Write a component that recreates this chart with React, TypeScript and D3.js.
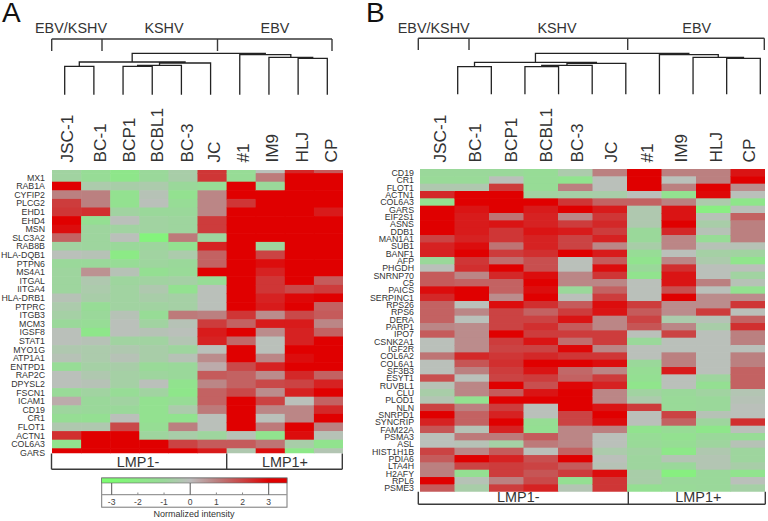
import React from 'react';
import * as d3 from 'd3';

const samples = ['JSC-1', 'BC-1', 'BCP1', 'BCBL1', 'BC-3', 'JC', '#1', 'IM9', 'HLJ', 'CP'];

const genesA = ['MX1', 'RAB1A', 'CYFIP2', 'PLCG2', 'EHD1', 'EHD4', 'MSN', 'SLC3A2', 'RAB8B', 'HLA-DQB1', 'PTPN6', 'MS4A1', 'ITGAL', 'IITGA4', 'HLA-DRB1', 'PTPRC', 'ITGB3', 'MCM3', 'IGSF8', 'STAT1', 'MYO1G', 'ATP1A1', 'ENTPD1', 'RAP2C', 'DPYSL2', 'FSCN1', 'ICAM1', 'CD19', 'CR1', 'FLOT1', 'ACTN1', 'COL6A3', 'GARS'];

const genesB = ['CD19', 'CR1', 'FLOT1', 'ACTN1', 'COL6A3', 'GARS', 'EIF2S1', 'ASNS', 'DDB1', 'MAN1A1', 'SUB1', 'BANF1', 'AFP', 'PHGDH', 'SNRNP70', 'C5', 'PAICS', 'SERPINC1', 'RPS26', 'RPS6', 'DERA', 'PARP1', 'IPO7', 'CSNK2A1', 'IGF2R', 'COL6A2', 'COL6A1', 'SF3B3', 'ESYT1', 'RUVBL1', 'CLU', 'PLOD1', 'NLN', 'SNRPD1', 'SYNCRIP', 'FAM22A', 'PSMA3', 'ASL', 'HIST1H1B', 'PDIA6', 'LTA4H', 'H2AFY', 'RPL6', 'PSME3'];

// panel A, one list per sample. The figure's crop leaves a sliver of one more row on top
const clippedTopRowA = [-0.8, -1.2, -1.8, -1, -0.6, 2.2, -1.2, -0.1, 2.4, 1.6];
const jsc1A = [-0.8, 3, 1, 2.1, 2.2, 3, 2.8, 1.5, -0.8, -0.1, -1, -0.9, -0.9, -0.9, -0.2, -0.5, -0.7, -1, -0.1, -0.1, -0.4, -0.2, -1.2, -0.1, -0.1, -1.1, 0.3, -0.9, -1.3, -0.4, 2.3, -1.6, 3];
const bc1A = [-1.2, -0.5, 1, 1, 2.3, -1.4, -0.9, -0.9, -0.9, -0.2, -1, 0.7, -0.4, -0.5, -0.6, -1.2, -1, -1.2, -1.8, -0.2, -0.5, -0.5, -0.7, -0.4, -0.2, -0.8, -1, -1, -1.4, -0.4, 3, 3, 3];
const bcp1A = [-1.8, -0.6, -1.5, -1.5, -0.8, -0.1, -0.8, -0.1, -1, -2, -1.2, -0.2, -0.9, -0.8, -0.8, -0.8, -0.2, -0.1, -0.1, -0.8, -0.4, -0.2, -0.6, -0.7, -0.7, -1.2, -0.8, -1, -0.1, 1.9, 3, 3, 3];
const bcbl1A = [-1, -0.5, -0.2, -0.1, -1, -0.8, -0.8, -2.5, -0.9, -0.8, -0.9, -1.4, -0.8, -0.4, -0.6, -0.8, -1.2, -0.8, -0.2, -0.8, -0.6, -0.6, -1.1, -0.9, -0.1, -0.8, -1.5, -1.5, -1.5, -1.3, -0.9, 3, 3];
const bc3A = [-0.6, -1, -1.5, -1.2, -1, -0.9, -0.9, 1.1, -1.5, -0.5, -1, -1.1, -0.7, -1.5, -0.7, -0.7, 1.1, -0.2, -0.1, -0.3, -0.9, -0.2, -1, -1, -1.6, -1.8, -1.2, -0.5, -1.6, 1, -0.6, 2, 3];
const jcA = [2.2, -1.2, 0.9, 0.9, 0.9, 2.1, 2.1, -0.9, 2.5, 1.5, 1.5, 3, -1.2, -0.1, -0.1, -0.1, 1, 2.1, 2.6, 2.5, -0.1, 0.8, 0.3, 1.6, 0.9, 1.5, 1.5, 1.1, -0.1, -0.1, -0.9, 1.6, 2.6];
const n1A = [-1.2, 3, 3, 2.2, 3, 3, 3, 3, 3, 3, 3, 3, 3, 3, 3, 3, 2.2, 1.5, 3, 1.4, 3, 3, 1.9, 1.5, 1.5, 1.9, 3, 3, 3, 3, -0.2, 1.6, -0.4];
const im9A = [1.1, -1, 3, 3, 3, 3, 3, 3, -0.9, 2, 2.8, 2.5, 2.2, 2.2, 2.5, 2.6, 0.8, 2.6, 0.8, -0.1, -0.1, 0.9, 2.5, 0.8, 1.9, 0.8, 2, 0.9, -0.1, 1.1, -1.6, 1.2, 2.8];
const hljA = [3, 3, 3, 3, 3, 3, 3, 3, 3, 3, 3, 3, 3, 1.9, 2.9, 3, 1.9, 2.6, 2.5, 2.5, 3, 2.8, 3, 2.4, 2, 2.5, -0.1, 0.9, 0.9, 3, 2.8, -0.6, -1.9];
const cpA = [3, 3, 3, 3, 2.6, 3, 3, 3, 3, 3, 3, 3, 1.6, 2.1, 3, 1.5, 1.6, 0.9, 1.5, 3, 3, 3, 3, 1.5, 2.5, 3, 1.5, 2.4, 3, 1, -0.2, -1.6, -0.3];

// panel B
const jsc1B = [-1, -1.1, -0.4, 2.4, -1.5, 3, 3, 3, 3, 2, 2.5, 2.5, -1, -0.1, 1.6, 1.6, 2.8, 2.4, 1.5, 1.5, 1.5, 0.9, 1.6, -0.1, -0.1, 1.2, -0.1, -0.1, 1.8, -0.2, -0.6, -0.3, 2, 3, 2.5, 1.7, -0.1, -0.1, 2, 1.6, 1, 1, 3, 1.6];
const bc1B = [-1, -1.1, -0.4, 3, 3, 2.7, 2.6, 2.6, 2.6, 2.5, 2.8, 3, 2.2, 2.3, 0.9, 1.5, 3, 3, -0.1, 0.9, -0.1, 0.8, 0.8, 0.8, 0.8, 2.4, 1.7, 1, -0.1, 0.9, 0.9, -1.5, 1, 1.5, 1.5, -0.2, 1.1, -0.2, 0.9, 3, 2, -1.4, -0.2, -0.6];
const bcp1B = [-1, -0.1, 2.1, 3, 3, 3, 1.2, 2.7, 2.2, 2.2, 1.2, 2.1, 1.3, 3, 2.4, 1.5, 1.5, 0.8, 2.8, 2, 2, 2, 3, 2.1, 2, 2.2, 2.3, 2.1, 2, 3, 1.6, 3, 2.1, 2.5, 3, 2.5, 1.1, -0.7, 1.6, 2.5, 2.1, 2.1, 1, 2.1];
const bcbl1B = [-1.2, -1.2, -1.2, -0.8, 3, 2.6, 2.5, 2.5, 2.7, 2.5, 2.5, 2.3, 1.8, 1.8, 2.8, 3, 2.8, 3, 2.3, 1.5, 2, 2.3, 2.1, 2.7, 2, 2.4, 3, 2.7, 2.1, 1.8, 2.7, 3, -0.1, -0.1, -1.3, -1.4, 1.6, 1.1, -0.1, 1.8, 2, 1.7, 1.9, 2.5];
const bc3B = [-0.5, -1.6, 1, -0.7, 2.2, 3, 0.9, 2.1, 2.6, 2, 2, 3, -0.1, -0.1, 0.9, 0.9, -1, -0.1, 1.6, 2.1, 2.7, 1.6, 2.1, 1.3, 2.9, 2.2, 3, 1.4, 1.5, 2.9, 3, 3, 3, 2, 2, 0.9, 0.9, 0.9, 1.5, 3, 1.6, 2.1, -1.4, -0.3];
const jcB = [1, -0.1, -0.1, -0.6, 1.5, 2.6, 2.2, 2.4, 2.1, 2.5, 0.9, 2.6, 1.6, 2.8, 2.2, 0.9, 1.5, 2.1, 2.8, 2.7, 0.9, 0.9, 2.1, 2.1, 0.9, 2.2, 2.8, 0.9, 2.1, 2.5, 0.9, 0.9, 2.7, 3, 2.8, 1, -0.1, -0.1, -0.5, -0.1, -0.2, 2.8, 2.2, 2.2];
const n1B = [3, 3, 3, -0.1, 1.5, -0.4, -0.4, -0.4, -1, -1, -0.6, -1.2, -1.6, -1, -1.6, -0.1, -0.1, -0.1, 2.1, 1.6, 2, 1.7, -0.1, -1, -0.1, -0.1, -1, -1.3, -1.4, -1.7, -0.8, -0.5, 2.1, -0.1, -0.1, -1.6, -1.2, -1.1, -0.8, -0.9, -0.9, -0.6, -0.6, -1.4];
const im9B = [1, -0.1, 1, -1.5, 1, 2.7, 2.7, 3, 2.4, 0.9, 0.9, -0.1, 0.9, 2.3, 2.7, 2.7, 1.8, 3, 0.8, 0.8, -0.5, 0.9, 2, -0.1, -0.1, 1, 1, 2.6, -0.1, -0.1, -1, -1.1, -1.1, 2, 1.5, -1.2, -1.5, -1.3, -1.9, -0.3, -1, -2.3, -1, -1.1];
const hljB = [1, 1, 3, 2.9, -0.5, -2.2, -0.2, -0.6, -0.2, -1.2, -0.2, -0.7, -0.5, -0.1, -0.1, 1, -0.1, 0.8, 0.8, 2.1, -0.2, -0.6, -0.1, -0.1, -0.1, -0.1, -0.1, -0.1, -0.9, -1.4, -0.8, -1, -1, -0.2, -0.9, -1.8, -1, -0.9, -0.4, -0.3, -0.3, -1, -1, -1];
const cpB = [2.7, 3, 0.8, -0.1, -1.8, -0.1, 1.5, 1, 1, 1, -0.2, -0.8, -1.7, -0.1, -0.8, -0.2, -1.5, 0.8, 2.2, -0.1, 1.5, 2.3, 1, 1, -0.1, 1, 1, 1.5, 1.5, 1.5, -0.3, -0.2, -0.1, -0.1, 2.3, -0.1, -1.2, -0.2, -0.9, -0.9, -0.6, -1.6, -0.1, -0.7];

const legendTicks = [-3, -2, -1, 0, 1, 2, 3];

type Tree = { h: number; leaf?: number; children?: Tree[] };

// merge heights of the clustering, in px from top of page (close enough for both panels)
const dendrogram = (h: number[]): Tree => ({
    h: h[0],
    children: [
        {
            h: h[1],
            children: [
                {h: h[2], children: [{h: 0, leaf: 0}, {h: 0, leaf: 1}]},
                {
                    h: h[3],
                    children: [
                        {
                            h: h[4],
                            children: [
                                {h: h[5], children: [{h: 0, leaf: 2}, {h: 0, leaf: 3}]},
                                {h: 0, leaf: 4},
                            ],
                        },
                        {h: 0, leaf: 5},
                    ],
                },
            ],
        },
        {
            h: h[6],
            children: [
                {h: 0, leaf: 6},
                {
                    h: h[7],
                    children: [
                        {h: 0, leaf: 7},
                        {h: h[8], children: [{h: 0, leaf: 8}, {h: 0, leaf: 9}]},
                    ],
                },
            ],
        },
    ],
});

const color = d3.scaleLinear<string>()
    .domain([-3, -1, 0, 1, 2, 3])
    .range(['#7dfc72', '#9ad89a', '#bdbdbd', '#bb8080', '#cb4343', '#e00000'])
    .clamp(true);

const FONT = '"Liberation Sans", Arial, sans-serif';
const INK = '#3a3a3a';

const Dendro: React.FC<{ tree: Tree; leafRange: [number, number]; bottom: number }> = ({tree, leafRange, bottom}) => {
    const x = d3.scalePoint<number>().domain(d3.range(samples.length)).range(leafRange);
    const root = d3.hierarchy(tree);
    const pos = new Map<any, number>();
    root.eachAfter((n) => {
        pos.set(n, n.children ? d3.mean(n.children, (c) => pos.get(c)) as number : x(n.data.leaf as number) as number);
    });
    const path = d3.path();
    root.each((n) => {
        if (!n.children) return;
        const [l, r] = n.children;
        const yOf = (c: typeof l) => (c.children ? c.data.h : bottom);
        path.moveTo(pos.get(l) as number, yOf(l));
        path.lineTo(pos.get(l) as number, n.data.h);
        path.lineTo(pos.get(r) as number, n.data.h);
        path.lineTo(pos.get(r) as number, yOf(r));
    });
    return <path d={path.toString()} fill="none" stroke="#222" strokeWidth={1.3}/>;
};

const Heat: React.FC<{
    id: string;
    columns: number[][];
    rows: string[];
    genes: string[];
    xRange: [number, number];
    yRange: [number, number];
    clip: [number, number];
    labelX: number;
}> = ({id, columns, rows, genes, xRange, yRange, clip, labelX}) => {
    const x = d3.scaleBand<string>().domain(samples).range(xRange);
    const y = d3.scaleBand<string>().domain(rows).range(yRange);
    return (
        <g>
            <clipPath id={id}>
                <rect x={xRange[0]} y={clip[0]} width={xRange[1] - xRange[0]} height={clip[1] - clip[0]}/>
            </clipPath>
            <g clipPath={`url(#${id})`}>
                {columns.map((col, i) => col.map((v, j) => (
                    <rect key={`${i}-${j}`} x={x(samples[i])} y={y(rows[j])}
                          width={x.bandwidth() + 0.6} height={y.bandwidth() + 0.6} fill={color(v)}/>
                )))}
            </g>
            {genes.map((g) => (
                <text key={g} x={labelX} y={(y(g) as number) + y.bandwidth() / 2} dy="0.36em" textAnchor="end"
                      fontSize={8.8} fill="#333">{g}</text>
            ))}
        </g>
    );
};

const SampleLabels: React.FC<{ range: [number, number]; nudge: number[]; y: number }> = ({range, nudge, y}) => {
    const x = d3.scalePoint<string>().domain(samples).range(range);
    return (
        <g>
            {samples.map((s, i) => (
                <text key={s} transform={`translate(${(x(s) as number) + nudge[i]},${y}) rotate(-90)`}
                      fontSize={17.2} fill="#333">{s}</text>
            ))}
        </g>
    );
};

const Bracket: React.FC<{ xs: number[]; top: number; bottom: number; flip?: boolean }> = ({xs, top, bottom, flip}) => {
    const rail = flip ? bottom : top;
    const end = flip ? top : bottom;
    const p = d3.path();
    p.moveTo(xs[0], rail);
    p.lineTo(xs[xs.length - 1], rail);
    xs.forEach((v) => {
        p.moveTo(v, rail);
        p.lineTo(v, end);
    });
    return <path d={p.toString()} fill="none" stroke={INK} strokeWidth={1.4}/>;
};

const Legend: React.FC = () => {
    const x = d3.scaleLinear().domain([-3, 3]).range([111.7, 268.7]);
    const left = 101.7;
    const right = 287;
    const stops = [-3, -1, 0, 1, 2, 3];
    return (
        <g>
            <defs>
                <linearGradient id="legendRamp" gradientUnits="userSpaceOnUse" x1={x(-3)} x2={x(3)} y1={0} y2={0}>
                    {stops.map((s) => (
                        <stop key={s} offset={(s + 3) / 6} stopColor={color(s)}/>
                    ))}
                </linearGradient>
            </defs>
            <rect x={left} y={478} width={right - left} height={29.2} fill="#fff" stroke="#777" strokeWidth={1}/>
            <rect x={left} y={478} width={right - left} height={5} fill="url(#legendRamp)" stroke="#666" strokeWidth={0.6}/>
            <line x1={left} x2={right} y1={494.7} y2={494.7} stroke="#999" strokeWidth={1.2}/>
            {legendTicks.map((t) => (
                <g key={t}>
                    {t % 3 === 0
                        ? <line x1={x(t)} x2={x(t)} y1={483} y2={494.7} stroke="#555" strokeWidth={1}/>
                        : <line x1={x(t)} x2={x(t)} y1={492.5} y2={494.7} stroke="#888" strokeWidth={1}/>}
                    <text x={x(t)} y={505} textAnchor="middle" fontSize={8.6} fill="#444">{t}</text>
                </g>
            ))}
            <text x={194} y={517} textAnchor="middle" fontSize={9} fill="#333">Normalized intensity</text>
        </g>
    );
};

export default function App() {
    const columnsA = [jsc1A, bc1A, bcp1A, bcbl1A, bc3A, jcA, n1A, im9A, hljA, cpA]
        .map((c, i) => [clippedTopRowA[i], ...c]);
    const columnsB = [jsc1B, bc1B, bcp1B, bcbl1B, bc3B, jcB, n1B, im9B, hljB, cpB];

    return (
        <svg width={768} height={521} viewBox="0 0 768 521" fontFamily={FONT}
             style={{position: 'absolute', left: 0, top: 0, display: 'block', background: '#fff'}}>
            <text x={2} y={22} fontSize={28} fill="#111">A</text>
            <text x={366} y={22} fontSize={28} fill="#111">B</text>

            {/* panel A */}
            <text x={71} y={33} textAnchor="middle" fontSize={14.4} fill="#333">EBV/KSHV</text>
            <text x={164} y={33} textAnchor="middle" fontSize={14.4} fill="#333">KSHV</text>
            <text x={275} y={33} textAnchor="middle" fontSize={14.4} fill="#333">EBV</text>
            <Bracket xs={[51.7, 102, 217.5, 332]} top={39} bottom={51}/>
            <Dendro tree={dendrogram([53.3, 62, 66.3, 63, 65.3, 66.3, 54.7, 57.3, 58.3])} leafRange={[64.7, 327.3]} bottom={94.7}/>
            <SampleLabels range={[73.5, 337]} nudge={[-1, 3, 3, 2, 2, 0, 0, 0, 0, 0]} y={162.5}/>
            <Heat id="clipA" columns={columnsA} rows={['', ...genesA]} genes={genesA}
                  xRange={[52, 343]} yRange={[164.5, 456.9]} clip={[170, 453.3]} labelX={45}/>
            <Bracket xs={[51.5, 226.7, 342.3]} top={453.5} bottom={469.3} flip/>
            <text x={138} y={467} textAnchor="middle" fontSize={14.4} fill="#333">LMP1-</text>
            <text x={285} y={467} textAnchor="middle" fontSize={14.4} fill="#333">LMP1+</text>
            <Legend/>

            {/* panel B */}
            <text x={433.7} y={33} textAnchor="middle" fontSize={14.4} fill="#333">EBV/KSHV</text>
            <text x={557} y={33} textAnchor="middle" fontSize={14.4} fill="#333">KSHV</text>
            <text x={696.7} y={33} textAnchor="middle" fontSize={14.4} fill="#333">EBV</text>
            <Bracket xs={[418.3, 469, 627.7, 764.3]} top={38.3} bottom={50}/>
            <Dendro tree={dendrogram([53.3, 62.3, 66.7, 63.3, 65.3, 66.7, 54.7, 57.3, 58.3])} leafRange={[457.7, 760.3]} bottom={94.3}/>
            <SampleLabels range={[445.7, 754.7]} nudge={[0, 0.7, 2.3, 3, 0.3, -0.7, 1.6, 0.7, 1.6, 0]} y={162.5}/>
            <Heat id="clipB" columns={columnsB} rows={genesB} genes={genesB}
                  xRange={[420, 765]} yRange={[169, 491.7]} clip={[169, 491.7]} labelX={414}/>
            <Bracket xs={[418.3, 628.3, 765.3]} top={491.7} bottom={504.3} flip/>
            <text x={518.3} y={501.5} textAnchor="middle" fontSize={14.4} fill="#333">LMP1-</text>
            <text x={698.3} y={501.5} textAnchor="middle" fontSize={14.4} fill="#333">LMP1+</text>
        </svg>
    );
}
